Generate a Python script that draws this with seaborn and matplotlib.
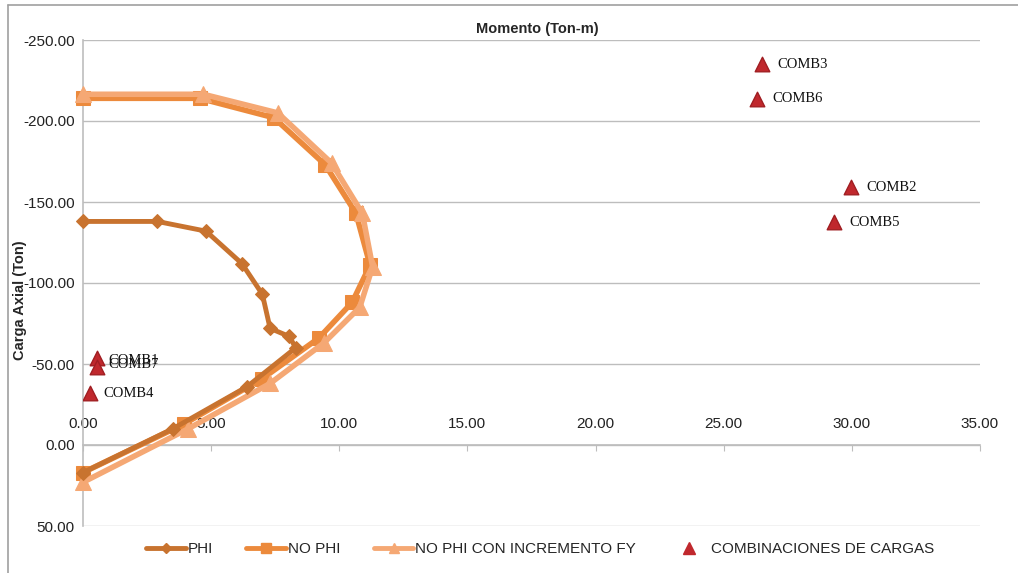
import matplotlib
matplotlib.use("Agg")
from matplotlib import pyplot as plt
from matplotlib.lines import Line2D
import pandas as pd
import seaborn as sns

# interaction diagram: Momento (Ton-m) vs Carga Axial (Ton)
phi_m = [0.0, 2.9, 4.8, 6.2, 7.0, 7.3, 8.05, 8.3, 6.4, 3.5, 0.0]
phi_p = [-138, -138, -132, -112, -93, -72, -67, -60, -36, -10, 17]

nophi_m = [0.0, 4.55, 7.45, 9.45, 10.65, 11.2, 10.5, 9.2, 7.0, 3.95, 0.0]
nophi_p = [-214, -214, -202, -173, -143, -111, -88, -66, -41, -13, 17]

nophi_fy_m = [0.0, 4.7, 7.6, 9.7, 10.9, 11.3, 10.8, 9.4, 7.3, 4.1, 0.0]
nophi_fy_p = [-216.5, -216.5, -205, -174, -143, -110, -85, -63, -38, -10, 23]

comb_names = ["COMB1", "COMB7", "COMB4", "COMB3", "COMB6", "COMB2", "COMB5"]
comb_m = [0.55, 0.55, 0.27, 26.5, 26.3, 29.96, 29.3]
comb_p = [-54, -48, -32, -235, -213.6, -159, -137.6]

c_phi = "#C8732F"
c_nophi = "#EC8A3C"
c_fy = "#F5A874"
c_comb = "#C0282D"

sns.set_style("white")
plt.rcParams['font.family'] = ['Liberation Sans', 'DejaVu Sans']

fig = plt.figure(figsize=(10.18, 5.73), dpi=100)
ax = fig.add_axes([83 / 1018, 1 - 526 / 573, (980 - 83) / 1018, (526 - 40) / 573])

# horizontal grid
for yv in range(-250, 51, 50):
    ax.axhline(yv, color="#BDBDBD", lw=1, zorder=0)

df_nophi = pd.DataFrame({"m": nophi_m, "p": nophi_p})
df_fy = pd.DataFrame({"m": nophi_fy_m, "p": nophi_fy_p})
df_phi = pd.DataFrame({"m": phi_m, "p": phi_p})

sns.lineplot(data=df_nophi, x="m", y="p", sort=False, estimator=None, color=c_nophi, lw=4,
             marker="s", markersize=10, markeredgecolor=c_nophi, ax=ax, zorder=3, clip_on=False)
sns.lineplot(data=df_fy, x="m", y="p", sort=False, estimator=None, color=c_fy, lw=4,
             marker="^", markersize=11, markeredgecolor=c_fy, ax=ax, zorder=4, clip_on=False)
sns.lineplot(data=df_phi, x="m", y="p", sort=False, estimator=None, color=c_phi, lw=3.5,
             marker="D", markersize=7, markeredgecolor=c_phi, ax=ax, zorder=5, clip_on=False)

sns.scatterplot(x=comb_m, y=comb_p, marker="^", s=110, color=c_comb,
                edgecolor="#A01E22", linewidth=1, ax=ax, zorder=6)

offsets = {"COMB1": (8, -2), "COMB7": (8, 2), "COMB4": (10, 0), "COMB3": (11, 0),
           "COMB6": (11, 0), "COMB2": (11, 0), "COMB5": (11, 0)}
for name, mx, py in zip(comb_names, comb_m, comb_p):
    dx, dy = offsets[name]
    ax.annotate(name, (mx, py), xytext=(dx, dy), textcoords="offset points",
                fontsize=10.5, family="Liberation Serif", va="center", ha="left",
                color="#111111", zorder=7)

ax.set_xlim(0, 35)
ax.set_ylim(50, -250)
ax.set_xticks(range(0, 36, 5))
ax.set_xticklabels([f"{v:.2f}" for v in range(0, 36, 5)])
ax.set_yticks(range(-250, 51, 50))
ax.set_yticklabels([f"{v:.2f}" for v in range(-250, 51, 50)])

ax.spines["right"].set_visible(False)
ax.spines["bottom"].set_visible(False)
ax.spines["top"].set_position(("data", 0))
ax.spines["top"].set_color("#BDBDBD")
ax.spines["top"].set_linewidth(1.2)
ax.spines["left"].set_color("#BDBDBD")
ax.spines["left"].set_linewidth(1.2)
ax.xaxis.set_ticks_position("top")
ax.xaxis.set_label_position("top")
ax.tick_params(axis="x", direction="in", length=4, color="#BDBDBD", pad=10,
               labelsize=11, labelcolor="#222222")
ax.tick_params(axis="y", direction="out", length=4, color="#BDBDBD", pad=2,
               labelsize=11, labelcolor="#222222")
ax.set_xlabel("")
ax.set_ylabel("")

fig.text(537 / 1018, 1 - 29 / 573, "Momento (Ton-m)", fontsize=10.5, fontweight="bold",
         ha="center", va="center")
fig.text(20 / 1018, 1 - 300 / 573, "Carga Axial (Ton)", fontsize=10.5, fontweight="bold",
         ha="center", va="center", rotation=90)

handles = [
    Line2D([], [], color=c_phi, lw=3.5, marker="D", markersize=5),
    Line2D([], [], color=c_nophi, lw=3.5, marker="s", markersize=7),
    Line2D([], [], color=c_fy, lw=3.5, marker="^", markersize=7),
    Line2D([], [], color=c_comb, lw=0, marker="^", markersize=8),
]
labels = ["PHI", "NO PHI", "NO PHI CON INCREMENTO FY", "COMBINACIONES DE CARGAS"]
fig.legend(handles, labels, loc="center", bbox_to_anchor=(540 / 1018, 1 - 549 / 573),
           ncol=4, frameon=False, fontsize=11, handlelength=2.6, handletextpad=0.1,
           columnspacing=2.2)

# outer chart border (top and left visible)
fig.add_artist(Line2D([8 / 1018, 8 / 1018], [0, 1 - 5 / 573], transform=fig.transFigure,
                      color="#A0A0A0", lw=1.2))
fig.add_artist(Line2D([8 / 1018, 1], [1 - 5 / 573, 1 - 5 / 573], transform=fig.transFigure,
                      color="#A0A0A0", lw=1.2))

fig.savefig("out.png", dpi=100)
